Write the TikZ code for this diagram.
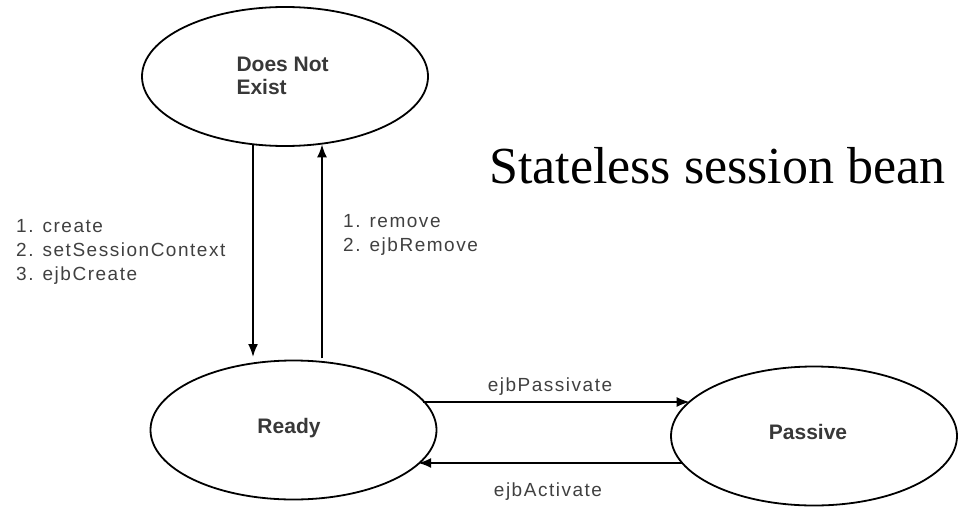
\documentclass[tikz,border=0pt]{standalone}
\usepackage{fontspec}
\setmainfont{Liberation Serif}
\newfontfamily\lblfont[LetterSpace=8]{Liberation Sans}
\newfontfamily\statefont{Liberation Sans}
\usetikzlibrary{shapes.geometric,arrows.meta,calc}
\begin{document}
\begin{tikzpicture}[x=1pt,y=-1pt,
  state/.style={ellipse,draw,line width=1.8pt,minimum width=286pt,minimum height=139pt,inner sep=0pt},
  statetext/.style={font=\statefont\bfseries\fontsize{21}{23}\selectfont,text=black!78},
  lbl/.style={font=\lblfont\fontsize{19}{24}\selectfont,text=black!75,inner sep=0pt},
  arr/.style={line width=1.8pt,-{Latex[length=13pt,width=10pt,fill=black]}}]
\useasboundingbox (0,0) rectangle (960,506);

% states
\node[state] (dne) at (285,76.5) {};
\node[state] (ready) at (293.5,430) {};
\node[state] (passive) at (814,436) {};

\node[statetext,align=left,anchor=west] (dnet) at (233,75.5) {Does Not\\Exist};
\node[statetext] (readyt) at (289,428) {Ready};
\node[statetext] (passivet) at (808,432) {Passive};

% transitions between Does Not Exist and Ready
\draw[arr] ($(dne.south)+(-32,-1.8)$) -- ($(ready.north)+(-40.5,-2.6)$);
\draw[arr] ($(ready.north)+(28.5,-1.2)$) -- ($(dne.south)+(37,-2.5)$);

% transitions between Ready and Passive
\draw[arr] ($(ready.center)+(129.8,-28)$) -- ($(passive.center)+(-124.4,-34)$);
\draw[arr] ($(passive.center)+(-131.6,27)$) -- ($(ready.center)+(124.7,33)$);

% labels
\node[lbl,align=left,anchor=west] (createl) at (16,252) {1. create\\2. setSessionContext\\3. ejbCreate};
\node[lbl,align=left,anchor=west] (removel) at (343,234.5) {1. remove\\2. ejbRemove};
\node[lbl] (passl) at (550,387) {ejbPassivate};
\node[lbl] (actl) at (548,492) {ejbActivate};

% title
\node[font=\fontsize{52}{60}\selectfont,anchor=base west,inner sep=0pt] (title) at (489,183) {Stateless session bean};
\end{tikzpicture}
\end{document}
